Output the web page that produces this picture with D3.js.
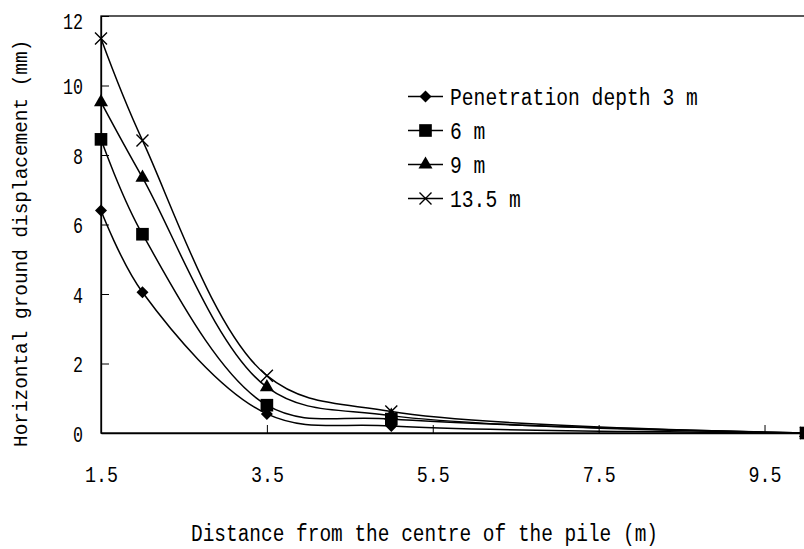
<!DOCTYPE html>
<html>
<head>
<meta charset="utf-8">
<script src="https://cdn.jsdelivr.net/npm/d3@7/dist/d3.min.js"></script>
<style>
  html, body { margin: 0; padding: 0; background: #fff; }
  svg { display: block; }
  text { font-family: "Liberation Mono", "DejaVu Sans Mono", monospace; fill: #000; }
</style>
</head>
<body>
<svg id="chart" width="804" height="549"></svg>
<script>
// ---- data ----
const distances = [1.5, 2, 3.5, 5, 10];
const seriesNames = ["Penetration depth 3 m", "6 m", "9 m", "13.5 m"];
const depth3 = [6.4, 4.05, 0.55, 0.2, 0];
const depth6 = [8.45, 5.72, 0.8, 0.4, 0];
const depth9 = [9.52, 7.35, 1.32, 0.5, 0];
const depth135 = [11.35, 8.42, 1.65, 0.62, 0];
const xTicks = [1.5, 3.5, 5.5, 7.5, 9.5];
const yTicks = [0, 2, 4, 6, 8, 10, 12];
const xLabel = "Distance from the centre of the pile (m)";
const yLabel = "Horizontal ground displacement (mm)";

const allSeries = [depth3, depth6, depth9, depth135];
const markerTypes = ["diamond", "square", "triangle", "x"];

const svg = d3.select("#chart");
const x = d3.scaleLinear().domain([1.5, 10]).range([101, 806]);
const y = d3.scaleLinear().domain([0, 12]).range([433, 16]);

// plot frame (top + left + bottom; right edge is beyond the canvas)
svg.append("rect")
  .attr("x", x(1.5)).attr("y", y(12))
  .attr("width", x(10) - x(1.5)).attr("height", y(0) - y(12))
  .attr("fill", "none").attr("stroke", "#000").attr("stroke-width", 1.3);

// axes with inward ticks
const xAxis = d3.axisBottom(x).tickValues(xTicks).tickSizeInner(-8).tickSizeOuter(0).tickFormat(d => d.toFixed(1));
const gx = svg.append("g").attr("transform", `translate(0,${y(0)})`).call(xAxis);
gx.select(".domain").attr("stroke", "#000").attr("stroke-width", 1.3);
gx.selectAll(".tick line").attr("stroke", "#000").attr("stroke-width", 1);
gx.selectAll(".tick text").attr("y", 0).attr("dy", 0)
  .attr("transform", "translate(0,49)")
  .attr("font-size", 22).attr("textLength", 33).attr("lengthAdjust", "spacingAndGlyphs")
  .style("font-family", '"Liberation Mono", monospace');

const yAxis = d3.axisLeft(y).tickValues(yTicks).tickSizeInner(-8).tickSizeOuter(0).tickFormat(d3.format("d"));
const gy = svg.append("g").attr("transform", `translate(${x(1.5)},0)`).call(yAxis);
gy.select(".domain").attr("stroke", "#000").attr("stroke-width", 1.3);
gy.selectAll(".tick line").attr("stroke", "#000").attr("stroke-width", 1);
gy.selectAll(".tick text").attr("x", -18).attr("dy", "0.38em")
  .attr("font-size", 22)
  .attr("textLength", d => String(d).length * 10)
  .attr("lengthAdjust", "spacingAndGlyphs")
  .style("font-family", '"Liberation Mono", monospace');
gy.selectAll(".tick").filter(d => d === 12).select("text").attr("dy", "0.55em");

// lines
const line = d3.line()
  .x((d, i) => x(distances[i]))
  .y(d => y(d))
  .curve(d3.curveCatmullRom.alpha(0.5));

const plot = svg.append("g");
allSeries.forEach(s => {
  plot.append("path").datum(s)
    .attr("d", line)
    .attr("fill", "none").attr("stroke", "#000").attr("stroke-width", 1.5);
});

// markers
function drawMarker(g, type, cx, cy) {
  if (type === "diamond") {
    g.append("path").attr("d", d3.symbol(d3.symbolSquare, 72)())
      .attr("transform", `translate(${cx},${cy}) rotate(45)`).attr("fill", "#000");
  } else if (type === "square") {
    g.append("path").attr("d", d3.symbol(d3.symbolSquare, 160)())
      .attr("transform", `translate(${cx},${cy})`).attr("fill", "#000");
  } else if (type === "triangle") {
    g.append("path").attr("d", d3.symbol(d3.symbolTriangle, 85)())
      .attr("transform", `translate(${cx},${cy})`).attr("fill", "#000");
  } else {
    const r = 6;
    g.append("path")
      .attr("d", `M${-r},${-r}L${r},${r}M${-r},${r}L${r},${-r}`)
      .attr("transform", `translate(${cx},${cy})`)
      .attr("stroke", "#000").attr("stroke-width", 1.4).attr("fill", "none");
  }
}

allSeries.forEach((s, si) => {
  const g = svg.append("g");
  s.forEach((v, i) => drawMarker(g, markerTypes[si], x(distances[i]), y(v)));
});

// legend
const legend = svg.append("g");
seriesNames.forEach((name, i) => {
  const ly = 96.5 + 34 * i;
  legend.append("line").attr("x1", 408).attr("x2", 443).attr("y1", ly).attr("y2", ly)
    .attr("stroke", "#000").attr("stroke-width", 1.5);
  drawMarker(legend, markerTypes[i], 425.5, ly);
  legend.append("text").attr("x", 450).attr("y", ly + 8)
    .attr("font-size", 23)
    .attr("textLength", name.length * 11.8).attr("lengthAdjust", "spacingAndGlyphs")
    .text(name);
});

// axis titles
svg.append("text")
  .attr("x", 191).attr("y", 541)
  .attr("font-size", 23)
  .attr("textLength", 467).attr("lengthAdjust", "spacingAndGlyphs")
  .text(xLabel);

svg.append("text")
  .attr("transform", "translate(27,447) rotate(-90)")
  .attr("x", 0).attr("y", 0)
  .attr("font-size", 19.4)
  .text(yLabel);
</script>
</body>
</html>
